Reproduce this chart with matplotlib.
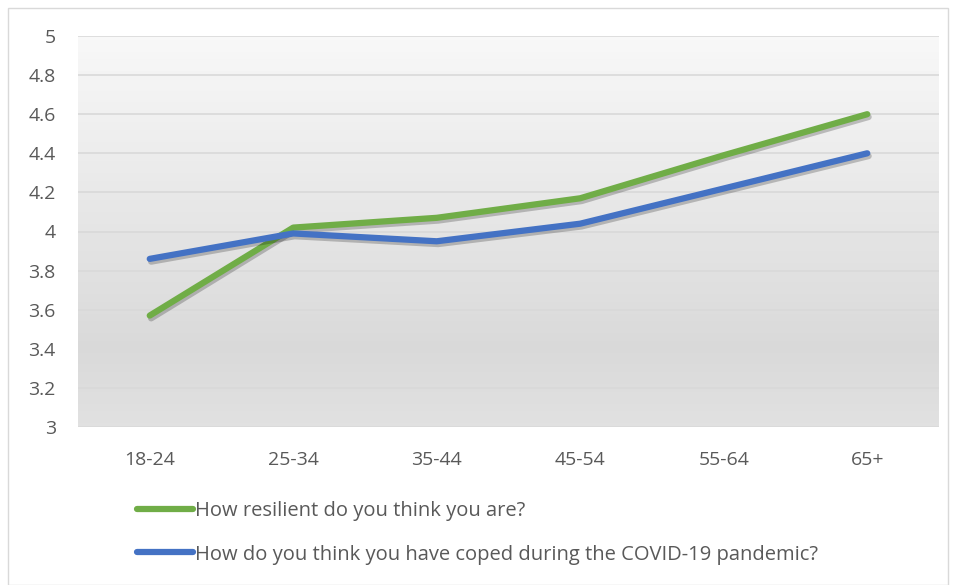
import matplotlib
matplotlib.use("Agg")
import matplotlib.pyplot as plt
import matplotlib.patheffects as pe
import numpy as np

plt.rcParams['font.family'] = ['Open Sans', 'DejaVu Sans']

age_groups = ["18-24", "25-34", "35-44", "45-54", "55-64", "65+"]
resilient = [3.57, 4.02, 4.07, 4.17, 4.39, 4.60]
coped = [3.86, 3.99, 3.95, 4.04, 4.22, 4.40]
series_names = ["How resilient do you think you are?",
                "How do you think you have coped during the COVID-19 pandemic?"]
yticks = [3, 3.2, 3.4, 3.6, 3.8, 4, 4.2, 4.4, 4.6, 4.8, 5]
ytick_labels = ["3", "3.2", "3.4", "3.6", "3.8", "4", "4.2", "4.4", "4.6", "4.8", "5"]

text_col = "#595959"
green = "#70AD47"
blue = "#4472C4"

fig = plt.figure(figsize=(9.56, 5.85), dpi=100)
ax = fig.add_axes([78/956, 1-427/585, (939-78)/956, (427-36)/585])

# gradient fill of the plot area, light at the top, darker lower down
grad = np.concatenate([np.linspace(0.97, 0.85, 80), np.linspace(0.85, 0.88, 20)])
ax.imshow(grad.reshape(-1, 1), cmap="gray", vmin=0, vmax=1, aspect="auto",
          extent=(-0.5, 5.5, 3, 5), origin="upper", zorder=0)

x = np.arange(len(age_groups))
shadow = [pe.SimpleLineShadow(offset=(1, -2), shadow_color="k", alpha=0.22, rho=0.3),
          pe.Normal()]
ax.plot(x, resilient, color=green, lw=4.5, solid_capstyle="round",
        solid_joinstyle="round", label=series_names[0], path_effects=shadow, zorder=3)
ax.plot(x, coped, color=blue, lw=4.5, solid_capstyle="round",
        solid_joinstyle="round", label=series_names[1], path_effects=shadow, zorder=4)

ax.set_xlim(-0.5, 5.5)
ax.set_ylim(3, 5)
ax.set_yticks(yticks)
ax.set_yticklabels(ytick_labels)
ax.set_xticks(x)
ax.set_xticklabels(age_groups)
ax.grid(axis="y", color="#d9d9d9", lw=1.2, zorder=1)
ax.set_axisbelow(False)
for s in ax.spines.values():
    s.set_visible(False)
ax.tick_params(length=0, labelsize=14, colors=text_col)
ax.tick_params(axis="y", pad=16)
ax.tick_params(axis="x", pad=17)

leg = fig.legend(loc="upper left", bbox_to_anchor=(0.143, 0.143), frameon=False,
                 fontsize=14.5, handlelength=2.8, handletextpad=0.1,
                 labelspacing=1.15, borderpad=0, borderaxespad=0)
for t in leg.get_texts():
    t.set_color(text_col)
for h in leg.legend_handles:
    h.set_path_effects([])

# outer chart border
fig.patches.append(plt.Rectangle((8/956, 0.0), 940/956, 1-8/585, transform=fig.transFigure,
                                 fill=False, edgecolor="#d9d9d9", lw=1))

fig.savefig("out.png", dpi=100)
